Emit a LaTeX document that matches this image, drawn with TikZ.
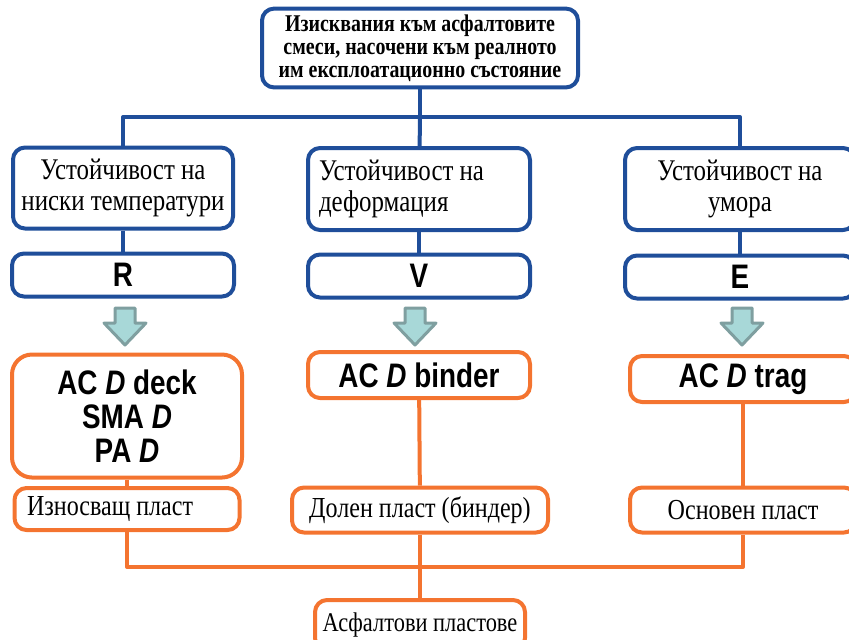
\documentclass[tikz,border=0pt]{standalone}
\usepackage{fontspec}
\setmainfont{Liberation Serif}[FakeStretch=0.83]
\newfontfamily\arialb{Liberation Sans}[FakeStretch=0.82]
\definecolor{bblue}{HTML}{1F4E9A}
\definecolor{oorange}{HTML}{F47430}
\definecolor{afill}{HTML}{A8D8D8}
\definecolor{aline}{HTML}{7F9FA0}
\begin{document}
\begin{tikzpicture}[x=0.5pt,y=-0.5pt,line join=round,
  bbox/.style={draw=bblue,line width=2pt,rounded corners=6pt,fill=white,inner sep=3pt},
  obox/.style={draw=oorange,line width=2pt,rounded corners=6pt,fill=white,inner sep=3pt},
  blink/.style={draw=bblue,line width=2pt},
  olink/.style={draw=oorange,line width=2pt},
  blockarrow/.style={fill=afill,draw=aline,line width=1.5pt},
  cyr/.style={font=\fontsize{15}{15.5}\selectfont},
  cyrs/.style={font=\fontsize{14.5}{15}\selectfont},
  lat/.style={font=\arialb\bfseries\fontsize{17}{17}\selectfont}]
\useasboundingbox (0,0) rectangle (849,639);
% requirements
\node[bbox,minimum width=158pt,minimum height=36pt,align=center,font=\bfseries\fontsize{12}{11.5}\selectfont] (req) at (420,48) {Изисквания към асфалтовите\\смеси, насочени към реалното\\им експлоатационно състояние};
\node[bbox,cyr,minimum width=110pt,minimum height=40.5pt,align=center] (lowt) at (123,188) {Устойчивост на\\ниски температури};
\node[bbox,cyr,minimum width=111pt,minimum height=41pt,text width=100pt,align=flush left] (deform) at (419,189) {Устойчивост на\\деформация};
\node[bbox,cyr,minimum width=115pt,minimum height=41pt,align=center] (fatig) at (740,189) {Устойчивост на\\умора};
\node[bbox,lat,minimum width=111pt,minimum height=21.5pt] (r) at (123,275) {R};
\node[bbox,lat,minimum width=111pt,minimum height=21.5pt] (v) at (419,276) {V};
\node[bbox,lat,minimum width=115pt,minimum height=21.5pt] (e) at (740,277) {E};
\coordinate (bj) at (420,117);
\draw[blink] (req) -- (bj);
\draw[blink] (lowt) |- (bj) -| (fatig);
\draw[blink] (bj) -- (deform);
\draw[blink] (lowt) -- (r);
\draw[blink] (deform) -- (v);
\draw[blink] (fatig) -- (e);
% block arrows
\foreach \x in {125,415,742}
  \draw[blockarrow] (\x-10,308) -- (\x+10,308) -- (\x+10,323) -- (\x+21,323) -- (\x,345) -- (\x-21,323) -- (\x-10,323) -- cycle;
% mixes and layers
\node[obox,lat,rounded corners=10pt,minimum width=115pt,minimum height=61.5pt,align=center] (wearmix) at (127,416) {AC \textit{D} deck\\SMA \textit{D}\\PA \textit{D}};
\node[obox,lat,minimum width=111pt,minimum height=23pt] (bindmix) at (419,375) {AC \textit{D} binder};
\node[obox,lat,minimum width=113pt,minimum height=23pt] (basemix) at (743,379) {AC \textit{D} trag};
\node[obox,cyrs,minimum width=112.5pt,minimum height=21pt,text width=100pt,align=flush left] (wear) at (127,509) {Износващ пласт};
\node[obox,cyrs,minimum width=128pt,minimum height=22.5pt] (binder) at (420,510) {Долен пласт (биндер)};
\node[obox,cyrs,minimum width=113pt,minimum height=22.5pt] (base) at (743,510) {Основен пласт};
\node[obox,font=\fontsize{13.5}{14}\selectfont,minimum width=105pt,minimum height=25pt] (layers) at (420,625) {Асфалтови пластове};
\coordinate (oj) at (420,567);
\draw[olink] (wearmix) -- (wear);
\draw[olink] (bindmix) -- (binder);
\draw[olink] (basemix) -- (base);
\draw[olink] (wear) |- (oj) -| (base);
\draw[olink] (binder) -- (layers);
\end{tikzpicture}
\end{document}
